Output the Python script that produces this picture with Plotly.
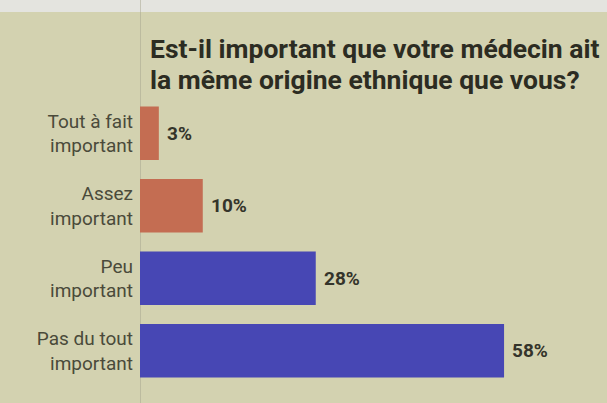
import plotly.graph_objects as go

# Survey answers, top to bottom
categories = ["Tout à fait<br>important", "Assez<br>important", "Peu<br>important", "Pas du tout<br>important"]
values = [3, 10, 28, 58]
bar_colors = ["#c46d52", "#c46d52", "#4747b4", "#4747b4"]
value_labels = ["3%", "10%", "28%", "58%"]

title_lines = ["Est-il important que votre médecin ait", "la même origine ethnique que vous?"]

BG = "#d3d2b0"
FONT = "Roboto, Liberation Sans, sans-serif"

fig = go.Figure()
fig.add_trace(go.Bar(
    x=values,
    y=categories,
    orientation="h",
    marker=dict(color=bar_colors, line=dict(width=0)),
    width=0.74,
    hoverinfo="skip",
))

# percentage labels just right of each bar
for cat, val, lab in zip(categories, values, value_labels):
    fig.add_annotation(
        x=val, y=cat, xref="x", yref="y",
        text="<b>%s</b>" % lab, showarrow=False,
        xanchor="left", yanchor="middle", xshift=6,
        font=dict(family=FONT, size=19, color="#34342a"),
    )

# headline, two lines set a little tighter than the default leading
for line, ypos in zip(title_lines, [1.166, 1.060]):
    fig.add_annotation(
        x=0.017, y=ypos, xref="paper", yref="paper",
        text="<b>%s</b>" % line, showarrow=False,
        xanchor="left", yanchor="middle", align="left",
        font=dict(family=FONT, size=26.5, color="#2c2c22"),
    )

# pale strip along the top edge of the page
fig.add_shape(type="rect", xref="paper", yref="paper",
              x0=-0.31, x1=1.01, y0=1.293, y1=1.34,
              fillcolor="#e4e4df", line=dict(width=0), layer="below")
# thin vertical rule at the bar baseline
fig.add_shape(type="line", xref="x", yref="paper",
              x0=0, x1=0, y0=-0.07, y1=1.34,
              line=dict(color="#a5a38e", width=1), layer="below")

fig.update_layout(
    width=607, height=403,
    margin=dict(l=140, r=0, t=97, b=16),
    paper_bgcolor=BG, plot_bgcolor=BG,
    showlegend=False,
    xaxis=dict(range=[0, 74.4], visible=False, fixedrange=True),
    yaxis=dict(
        range=[3.5, -0.5], showgrid=False, zeroline=False, showline=False,
        ticks="", ticklabelstandoff=6,
        tickfont=dict(family=FONT, size=19, color="#4a4a3a"),
    ),
)

fig.write_html("out.html")
